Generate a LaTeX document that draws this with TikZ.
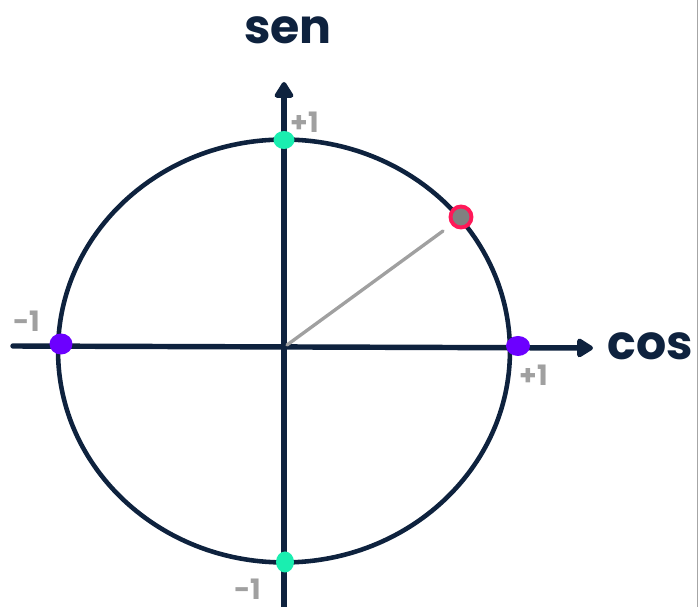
\documentclass[tikz,border=0pt]{standalone}
\usepackage{fontspec}
\newfontfamily\handfont{Poppins}
\usepackage{xcolor}
\usetikzlibrary{arrows.meta,shapes.geometric}

\definecolor{navy}{RGB}{14,34,62}
\definecolor{mint}{RGB}{26,238,176}
\definecolor{violet}{RGB}{108,0,255}
\definecolor{rose}{RGB}{255,24,88}
\definecolor{ash}{RGB}{160,160,160}

\begin{document}
\begin{tikzpicture}[
  x=0.02cm, y=-0.02cm,
  axis/.style  = {line width=3.1pt, draw=navy, line cap=round,
                  -{Triangle[round, length=3.6mm, width=4.2mm]}},
  ring/.style  = {line width=2.6pt, draw=navy},
  dot/.style   = {ellipse, inner sep=0pt, minimum width=4.2mm, minimum height=3.6mm},
  axlabel/.style = {font=\handfont\bfseries\fontsize{27}{27}\selectfont, text=navy},
  tick/.style  = {font=\handfont\bfseries\fontsize{16}{16}\selectfont, text=ash}
]
  \useasboundingbox (0,0) rectangle (698,607);

  % axes
  \coordinate (o) at (284,346);
  \coordinate (xl) at (13,346);
  \coordinate (xr) at (593,348);
  \coordinate (yb) at (284,607);
  \coordinate (yt) at (284,82);
  \draw[axis] (xl) -- (xr);
  \draw[axis] (yb) -- (yt);

  % unit circle
  \draw[ring] (284,351) ellipse [x radius=4.52cm, y radius=4.23cm];

  % radius to the point
  \node[circle, draw=rose, fill=ash!80!black, line width=2.2pt,
        minimum size=4.2mm, inner sep=0pt] (p) at (461,217) {};
  \coordinate (pe) at (443,231);
  \draw[ash, line width=1.9pt, line cap=round] (o) ++(3,-1) -- (pe);

  % points on the axes
  \node[dot, fill=mint]   (top)   at (284,140) {};
  \node[dot, fill=mint, minimum width=3.6mm, minimum height=4.2mm] (bot) at (285,562) {};
  \node[dot, fill=violet, minimum width=4.6mm, minimum height=4.2mm] (left)  at (61,344) {};
  \node[dot, fill=violet, minimum width=4.8mm, minimum height=4mm] (right) at (518,346) {};

  % labels
  \node[axlabel] (sen) at (288,30) {sen};
  \node[axlabel] (cos) at (650,346) {cos};
  \node[tick] (t1) at (305,122) {+1};
  \node[tick] (t2) at (27,321) {-1};
  \node[tick] (t3) at (534,375) {+1};
  \node[tick] (t4) at (248,589) {-1};

  \draw[gray!70, line width=0.4pt] (697.6,0) -- (697.6,607);
\end{tikzpicture}
\end{document}
